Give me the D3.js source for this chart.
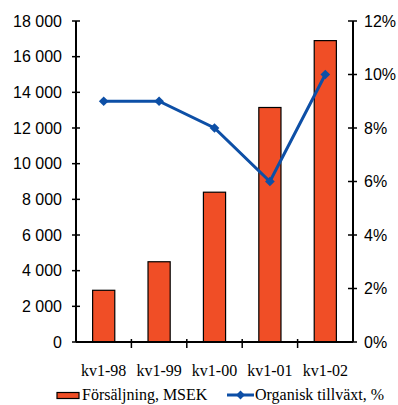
<!DOCTYPE html>
<html>
<head>
<meta charset="utf-8">
<script src="https://cdn.jsdelivr.net/npm/d3@7"></script>
</head>
<body style="margin:0">
<svg id="fig" width="398" height="405"></svg>
<script>
const categories = ['kv1-98', 'kv1-99', 'kv1-00', 'kv1-01', 'kv1-02'];
const sales = [2900, 4500, 8400, 13150, 16900];
const growth = [9, 9, 8, 6, 10];
const leftTicks = [0, 2000, 4000, 6000, 8000, 10000, 12000, 14000, 16000, 18000];
const rightTicks = [0, 2, 4, 6, 8, 10, 12];

const margin = { top: 21, right: 45, bottom: 63, left: 76 };
const width = 398 - margin.left - margin.right;
const height = 405 - margin.top - margin.bottom;

const svg = d3.select('#fig');
const chart = svg.append('g').attr('transform', `translate(${margin.left},${margin.top})`);

const x = d3.scaleBand().domain(categories).range([0, width]).paddingInner(0.6).paddingOuter(0.3);
const yL = d3.scaleLinear().domain([0, 18000]).range([height, 0]);
const yR = d3.scaleLinear().domain([0, 12]).range([height, 0]);

const fmt = d => d3.format(',')(d).replace(/,/g, ' ');

// sans for the value axes, serif for categories and legend
const sans = sel => sel.style('font-family', 'Liberation Sans', 'important').style('font-size', '16px', 'important');
const serif = sel => sel.style('font-family', 'Liberation Serif', 'important').style('font-size', '16px', 'important');

// bars
chart.selectAll('rect.bar')
  .data(sales)
  .join('rect')
  .attr('class', 'bar')
  .attr('x', (d, i) => x(categories[i]))
  .attr('y', d => yL(d))
  .attr('width', x.bandwidth())
  .attr('height', d => height - yL(d))
  .attr('fill', '#F04E26')
  .attr('stroke', '#000')
  .attr('stroke-width', 1.2);

// left axis
const leftG = chart.append('g');
leftG.append('line').attr('x1', 0).attr('x2', 0).attr('y1', 0).attr('y2', height)
  .attr('stroke', '#000').attr('stroke-width', 2);
const lt = leftG.selectAll('g.ytick').data(leftTicks).join('g').attr('class', 'ytick')
  .attr('transform', d => `translate(0,${yL(d)})`);
lt.append('line').attr('x1', -4).attr('x2', 4).attr('stroke', '#000').attr('stroke-width', 1.5);
lt.append('text').attr('x', -14).attr('dy', '0.36em').attr('text-anchor', 'end').text(fmt).call(sans);

// right axis
const rightG = chart.append('g').attr('transform', `translate(${width},0)`);
rightG.append('line').attr('x1', 0).attr('x2', 0).attr('y1', 0).attr('y2', height)
  .attr('stroke', '#000').attr('stroke-width', 2);
const rt = rightG.selectAll('g.ytick').data(rightTicks).join('g').attr('class', 'ytick')
  .attr('transform', d => `translate(0,${yR(d)})`);
rt.append('line').attr('x1', -5).attr('x2', 4).attr('stroke', '#000').attr('stroke-width', 1.5);
rt.append('text').attr('x', 11).attr('dy', '0.36em').text(d => d + '%').call(sans);

// bottom axis
const bottomG = chart.append('g').attr('transform', `translate(0,${height})`);
bottomG.append('line').attr('x1', 0).attr('x2', width).attr('stroke', '#000').attr('stroke-width', 2);
const step = x.step();
bottomG.selectAll('line.tick').data(d3.range(1, categories.length)).join('line')
  .attr('class', 'tick')
  .attr('x1', d => d * step).attr('x2', d => d * step)
  .attr('y1', -3).attr('y2', 6).attr('stroke', '#000').attr('stroke-width', 1.5);
bottomG.selectAll('text.xlab').data(categories).join('text')
  .attr('class', 'xlab')
  .attr('x', d => x(d) + x.bandwidth() / 2)
  .attr('y', 34)
  .attr('text-anchor', 'middle')
  .text(d => d)
  .call(serif);

// growth line
const cx = (d, i) => x(categories[i]) + x.bandwidth() / 2;
const line = d3.line().x(cx).y(d => yR(d));
chart.append('path').datum(growth).attr('d', line)
  .attr('fill', 'none').attr('stroke', '#0D4FA6').attr('stroke-width', 3);
chart.selectAll('path.marker').data(growth).join('path')
  .attr('class', 'marker')
  .attr('transform', (d, i) => `translate(${cx(d, i)},${yR(d)})`)
  .attr('d', d3.symbol(d3.symbolDiamond2, 60))
  .attr('fill', '#0D4FA6');

// legend
const legend = svg.append('g').attr('class', 'legend');
legend.append('rect').attr('x', 57).attr('y', 392.5).attr('width', 22).attr('height', 6)
  .attr('fill', '#F04E26').attr('stroke', '#000').attr('stroke-width', 1.2);
legend.append('text').attr('x', 82).attr('y', 400).text('Försäljning, MSEK').call(serif);
legend.append('line').attr('x1', 227).attr('x2', 254).attr('y1', 395).attr('y2', 395)
  .attr('stroke', '#0D4FA6').attr('stroke-width', 3);
legend.append('path').attr('transform', 'translate(240.5,395)')
  .attr('d', d3.symbol(d3.symbolDiamond2, 50)).attr('fill', '#0D4FA6');
legend.append('text').attr('x', 255).attr('y', 400).text('Organisk tillväxt, %').call(serif);
</script>
</body>
</html>
